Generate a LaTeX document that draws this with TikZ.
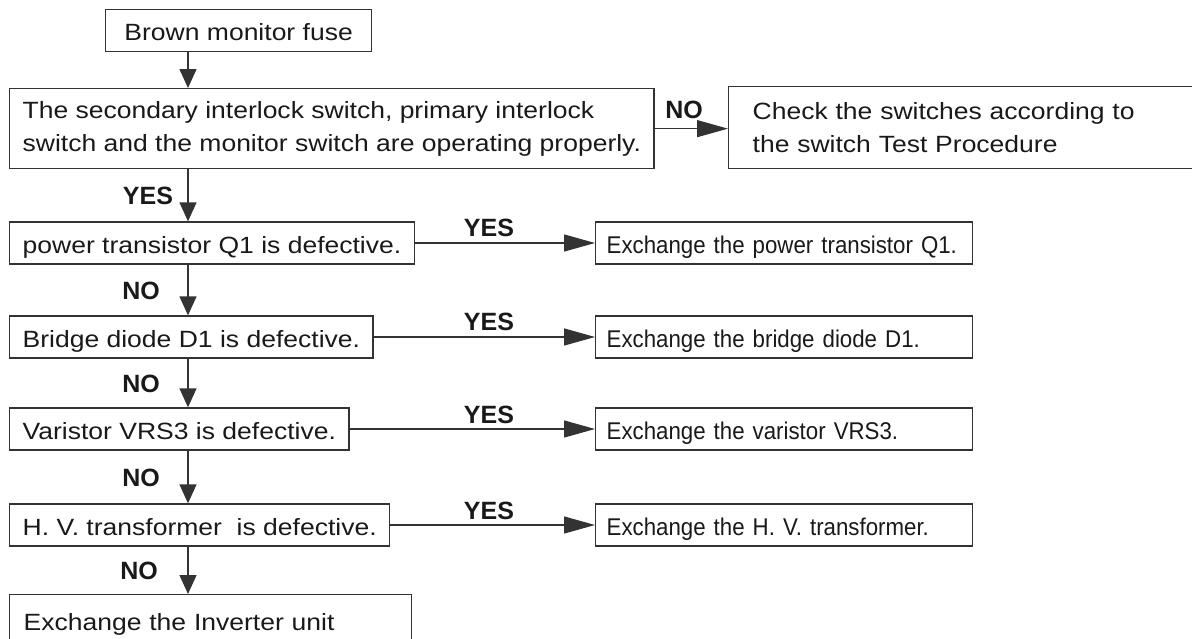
\documentclass[tikz,border=0pt]{standalone}
\usepackage{fontspec}
\setmainfont{Liberation Sans}
\newfontfamily\boxfont[FakeStretch=1.128]{Liberation Sans}
\newfontfamily\fixfont[FakeStretch=0.92]{Liberation Sans}
\usepackage{tikz}
\usetikzlibrary{arrows.meta}

\begin{document}
\begin{tikzpicture}[x=1pt, y=-1pt,
  every node/.style={text=black!90},
  box/.style={draw=black!80, line width=1.3pt, inner ysep=0pt, inner xsep=13pt, font=\boxfont\fontsize{23.5}{33.3}\selectfont},
  row/.style={box, minimum height=42pt, text height=20pt, text depth=0pt, anchor=west},
  fixbox/.style={row, font=\fixfont\fontsize{24.2}{30}\selectfont, inner xsep=11pt, text width=355pt, align=left},
  lbl/.style={font=\bfseries\fontsize{25}{30}\selectfont, inner sep=0pt, anchor=base},
  varr/.style={draw=black!80, line width=1.3pt, -{Triangle[length=19pt,width=17pt]}},
  harr/.style={varr, -{Triangle[length=31pt,width=17pt]}}]
\useasboundingbox (0,0) rectangle (1192,638);
\clip (0,0) rectangle (1192,638);
\coordinate (spine) at (188,0);
\node[row, anchor=north west, minimum width=266pt] (fuse) at (105,9) {Brown monitor fuse};
\node[box, anchor=north west, minimum width=643pt, minimum height=80pt, align=left] (sw) at (9,88) {The secondary interlock switch, primary interlock\\switch and the monitor switch are operating properly.};
\node[box, anchor=north west, inner xsep=24pt, text width=420pt, minimum height=82pt, align=left] (check) at (728,86) {Check the switches according to\\the switch Test Procedure};
\node[row] (q1) at (9,243) {power transistor Q1 is defective.};
\node[fixbox] (xq1) at (595,243) {Exchange the power transistor Q1.};
\node[row] (d1) at (9,337) {Bridge diode D1 is defective.};
\node[fixbox] (xd1) at (595,337) {Exchange the bridge diode D1.};
\node[row] (vrs) at (9,429) {Varistor VRS3 is defective.};
\node[fixbox] (xvrs) at (595,429) {Exchange the varistor VRS3.};
\node[row] (hv) at (9,525) {H. V. transformer~ is defective.};
\node[fixbox] (xhv) at (595,525) {Exchange the H. V. transformer.};
\node[row, anchor=north west, minimum height=52pt, text width=374pt, inner xsep=14pt, align=left] (inv) at (9,594) {Exchange the Inverter unit};

\node[lbl] (no0) at (684,118) {NO};
\node[lbl] (yes0) at (148,204) {YES};
\node[lbl] (no1) at (141,299) {NO};
\node[lbl] (no2) at (141,392) {NO};
\node[lbl] (no3) at (141,486) {NO};
\node[lbl] (no4) at (139,579) {NO};
\node[lbl] (yes1) at (489,236) {YES};
\node[lbl] (yes2) at (489,330) {YES};
\node[lbl] (yes3) at (489,423) {YES};
\node[lbl] (yes4) at (489,519) {YES};

\draw[varr] (fuse.south -| spine) -- (sw.north -| spine);
\draw[varr] (sw.south -| spine) -- (q1.north -| spine);
\draw[varr] (q1.south -| spine) -- (d1.north -| spine);
\draw[varr] (d1.south -| spine) -- (vrs.north -| spine);
\draw[varr] (vrs.south -| spine) -- (hv.north -| spine);
\draw[varr] (hv.south -| spine) -- (inv.north -| spine);
\draw[harr] (sw.east) -- (sw.east -| check.west);
\draw[harr] (q1.east) -- (xq1.west);
\draw[harr] (d1.east) -- (xd1.west);
\draw[harr] (vrs.east) -- (xvrs.west);
\draw[harr] (hv.east) -- (xhv.west);
\end{tikzpicture}
\end{document}
